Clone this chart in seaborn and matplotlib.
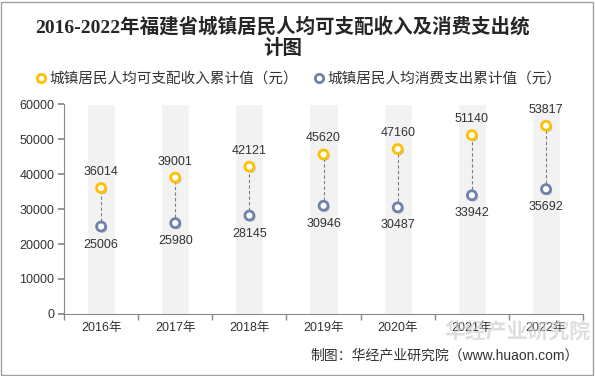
import pandas as pd
import numpy as np
import matplotlib.pyplot as plt
import matplotlib.patheffects as pe
from matplotlib.patches import Rectangle
from matplotlib.lines import Line2D
import seaborn as sns

years = ['2016年', '2017年', '2018年', '2019年', '2020年', '2021年', '2022年']
income = [36014, 39001, 42121, 45620, 47160, 51140, 53817]
expense = [25006, 25980, 28145, 30946, 30487, 33942, 35692]
income_label = '城镇居民人均可支配收入累计值（元）'
expense_label = '城镇居民人均消费支出累计值（元）'
yticks = [0, 10000, 20000, 30000, 40000, 50000, 60000]

sns.set_theme(style='white')
plt.rcParams['font.family'] = ['Liberation Sans', 'Noto Sans CJK SC', 'DejaVu Sans']

c_inc = '#FFC000'
c_exp = '#6E82AA'
txt = '#333333'

df = pd.DataFrame({'year': years, 'income': income, 'expense': expense})
df['band'] = yticks[-1]

fig = plt.figure(figsize=(5.95, 3.76), dpi=100)
ax = fig.add_axes([0.1076, 0.165, 0.8724, 0.558])

# grey background bands
sns.barplot(data=df, x='year', y='band', color='#F2F2F2', width=0.38,
            saturation=1, ax=ax, zorder=0)

# dashed connectors
for i in range(len(years)):
    ax.plot([i, i], [expense[i], income[i]], ls=(0, (3, 2)), color='#7F7F7F',
            lw=0.8, zorder=2)

shadow = [pe.SimplePatchShadow(offset=(1.2, -1.2), alpha=0.35, shadow_rgbFace='#555555'), pe.Normal()]
for col, c in [('income', c_inc), ('expense', c_exp)]:
    sns.scatterplot(data=df, x='year', y=col, ax=ax, s=42, color='white',
                    edgecolor=c, linewidth=2, zorder=3)
for coll in ax.collections:
    coll.set_path_effects(shadow)

for i in range(len(years)):
    ax.annotate(str(income[i]), (i, income[i]), xytext=(0, 11.5), textcoords='offset points',
                ha='center', va='center', fontsize=9, color=txt)
    ax.annotate(str(expense[i]), (i, expense[i]), xytext=(0, -13), textcoords='offset points',
                ha='center', va='center', fontsize=9, color=txt)

ax.set_xlim(-0.5, len(years) - 0.5)
ax.set_ylim(0, yticks[-1])
ax.set_yticks(yticks)
ax.set_xlabel('')
ax.set_ylabel('')
ax.tick_params(axis='both', labelsize=9, colors=txt)
ax.tick_params(axis='x', which='major', length=0, pad=6)
ax.set_xticks(np.arange(-0.5, len(years)), minor=True)
ax.tick_params(axis='x', which='minor', length=4, color='#898989', direction='out', bottom=True)
ax.tick_params(axis='y', length=4, color='#898989', direction='out', left=True, pad=3)
for s in ['top', 'right']:
    ax.spines[s].set_visible(False)
for s in ['left', 'bottom']:
    ax.spines[s].set_color('#898989')
    ax.spines[s].set_linewidth(0.8)

# legend
handles = [Line2D([], [], marker='o', ls='', markersize=6, markerfacecolor='white',
                  markeredgecolor=c_inc, markeredgewidth=2),
           Line2D([], [], marker='o', ls='', markersize=6, markerfacecolor='white',
                  markeredgecolor=c_exp, markeredgewidth=2)]
fig.legend(handles, [income_label, expense_label], loc='center', bbox_to_anchor=(0.5, 0.79),
           ncol=2, frameon=False, fontsize=10.5, handletextpad=0.05, columnspacing=1.0,
           handlelength=1.0, labelcolor=txt)

fig.text(0.475, 0.9, '2016-2022年福建省城镇居民人均可支配收入及消费支出统\n计图', ha='center',
         va='center', fontsize=14, fontweight='bold', color='#262626', linespacing=1.2,
         family=['Liberation Serif', 'Noto Sans CJK SC'])

# watermark
fig.text(0.87, 0.118, '华经产业研究院', ha='center', va='center', fontsize=15,
         fontweight='bold', color='#C8C8C8', alpha=0.6)
fig.text(0.972, 0.056, '制图：华经产业研究院（www.huaon.com）', ha='right', va='center',
         fontsize=10, color=txt)

fig.patches.append(Rectangle((0.002, 0.003), 0.995, 0.993, transform=fig.transFigure,
                             fill=False, edgecolor='#A0A0A0', lw=1))

fig.savefig('out.png', dpi=100)
